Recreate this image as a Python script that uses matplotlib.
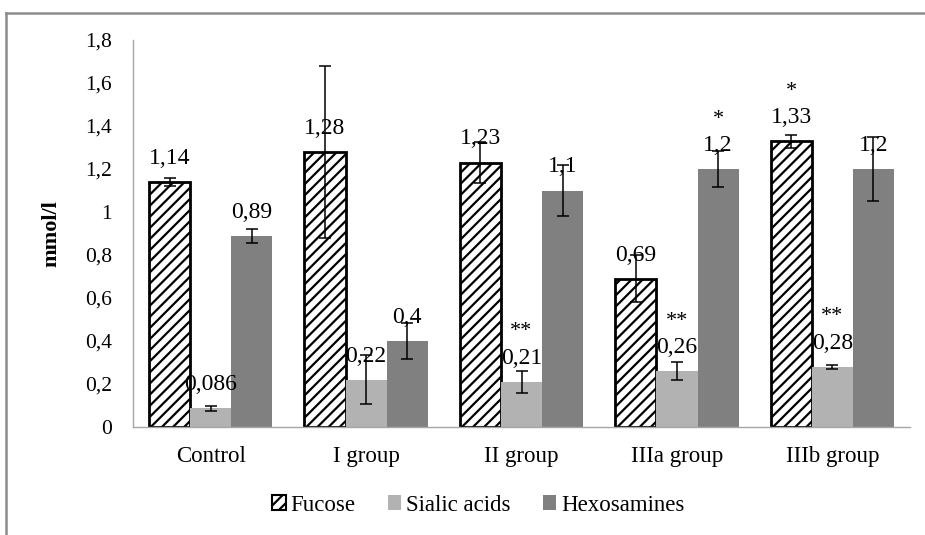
import numpy as np
import matplotlib
matplotlib.use("Agg")
import matplotlib.pyplot as plt
from matplotlib.lines import Line2D
from matplotlib.patches import Patch

plt.rcParams['font.family'] = ['Liberation Serif', 'DejaVu Serif']
plt.rcParams['hatch.linewidth'] = 1.6

groups = ['Control', 'I group', 'II group', 'IIIa group', 'IIIb group']
series = ['Fucose', 'Sialic acids', 'Hexosamines']

fucose = [1.14, 1.28, 1.23, 0.69, 1.33]
sialic = [0.086, 0.22, 0.21, 0.26, 0.28]
hexos = [0.89, 0.40, 1.10, 1.20, 1.20]

fucose_err = [0.02, 0.40, 0.095, 0.11, 0.03]
sialic_err = [0.01, 0.115, 0.05, 0.04, 0.01]
hexos_err = [0.033, 0.085, 0.12, 0.085, 0.15]

fucose_lbl = ['1,14', '1,28', '1,23', '0,69', '1,33']
sialic_lbl = ['0,086', '0,22', '0,21', '0,26', '0,28']
hexos_lbl = ['0,89', '0,4', '1,1', '1,2', '1,2']

fucose_sig = ['', '', '', '', '*']
sialic_sig = ['', '', '**', '**', '**']
hexos_sig = ['', '', '', '*', '']

yticks = [0, 0.2, 0.4, 0.6, 0.8, 1.0, 1.2, 1.4, 1.6, 1.8]
ytick_lbl = ['0', '0,2', '0,4', '0,6', '0,8', '1', '1,2', '1,4', '1,6', '1,8']

fig = plt.figure(figsize=(9.25, 5.35), dpi=100)
ax = fig.add_axes([0.1438, 0.2019, 0.84, 0.7233])

x = np.arange(len(groups))
w = 0.265
ekw = dict(ecolor='black', elinewidth=1.1, capsize=4, capthick=1.1)

b1 = ax.bar(x - w, fucose, w, color='white', edgecolor='black', linewidth=2,
            hatch='///', yerr=fucose_err, error_kw=ekw, zorder=2)
b2 = ax.bar(x, sialic, w, color='#b2b2b2', yerr=sialic_err, error_kw=ekw, zorder=2)
b3 = ax.bar(x + w, hexos, w, color='#808080', yerr=hexos_err, error_kw=ekw, zorder=2)

for off, vals, lbls, sigs in [(-w, fucose, fucose_lbl, fucose_sig),
                              (0, sialic, sialic_lbl, sialic_sig),
                              (w, hexos, hexos_lbl, hexos_sig)]:
    for i in range(len(groups)):
        ax.annotate(lbls[i], (x[i] + off, vals[i]), xytext=(0, 17),
                    textcoords='offset points', ha='center', va='center',
                    fontsize=17, zorder=3)
        if sigs[i]:
            ax.annotate(sigs[i], (x[i] + off, vals[i]), xytext=(0, 36),
                        textcoords='offset points', ha='center', va='center',
                        fontsize=16, zorder=3)

ax.set_xlim(-0.5, 4.5)
ax.set_ylim(0, 1.8)
ax.set_yticks(yticks)
ax.set_yticklabels(ytick_lbl)
ax.set_xticks(x)
ax.set_xticklabels(groups)
ax.tick_params(axis='y', length=0, pad=15, labelsize=15.5)
ax.tick_params(axis='x', length=0, pad=14, labelsize=16.5)
ax.set_ylabel('mmol/l', fontsize=16, fontweight='bold', labelpad=17)

for s in ['top', 'right']:
    ax.spines[s].set_visible(False)
for s in ['left', 'bottom']:
    ax.spines[s].set_color('#a6a6a6')
    ax.spines[s].set_linewidth(1)

handles = [Patch(facecolor='white', edgecolor='black', hatch='///', linewidth=1.5),
           Patch(facecolor='#b2b2b2'), Patch(facecolor='#808080')]
fig.legend(handles, series, loc='center', bbox_to_anchor=(0.517, 0.056), ncol=3,
           frameon=False, fontsize=16.5, handlelength=0.6, handleheight=0.6,
           handletextpad=0.2, columnspacing=1.4)

# outer chart border (top and left edges visible)
fig.add_artist(Line2D([0.0065, 1.0], [0.976, 0.976], color='#8c8c8c', linewidth=1.8))
fig.add_artist(Line2D([0.0065, 0.0065], [0.0, 0.976], color='#8c8c8c', linewidth=1.8))

fig.savefig('out.png', dpi=100)
